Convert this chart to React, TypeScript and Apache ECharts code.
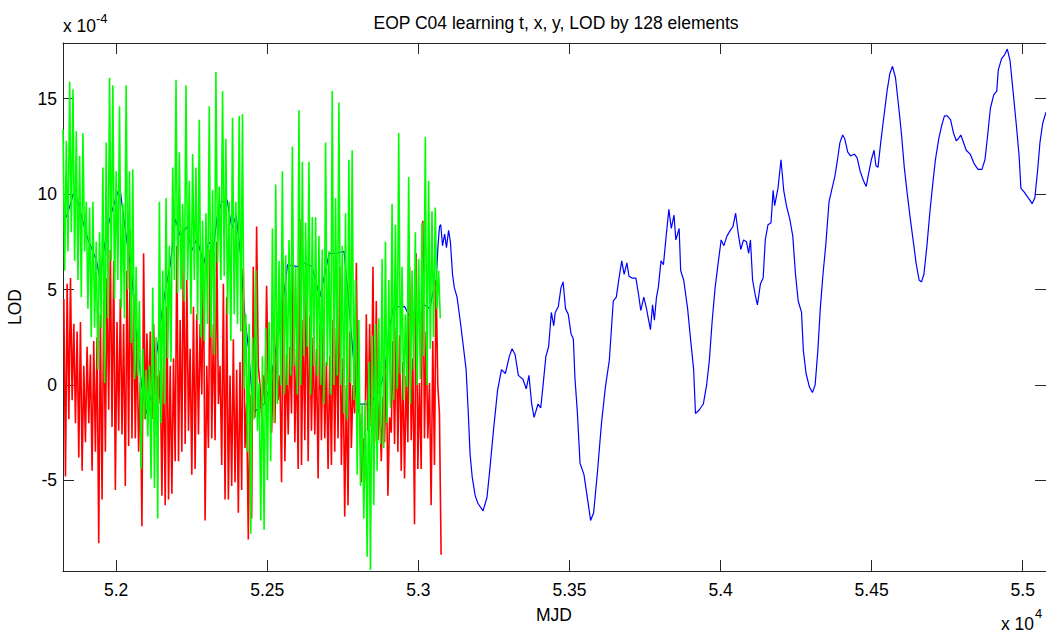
import React, { useEffect, useRef } from "react";
import * as echarts from "echarts";

// ---- data (LOD-type values in units of 1e-4, time in MJD) ----
const xTicks = [52000, 52500, 53000, 53500, 54000, 54500, 55000];
const yTicks = [-5, 0, 5, 10, 15];
const xMin = 51824;
const xMax = 55077;
const yMin = -9.75;
const yMax = 17.92;

// learning part: oscillating x (green) and y (red) samples, one high/low pair per cycle
const cycleStart = 51824;
const cycleDays = 11;
const greenHigh = [
  13.4, 12.8, 15.9, 15.5, 13.3, 12.0, 13.2, 9.6, 9.3, 9.6, 7.5, 8.0, 11.4, 12.7, 16.1, 15.7, 11.2, 14.6, 9.5, 15.7,
  11.2, 11.3, 6.2, 4.4, 1.9, 0.8, 1.0, 5.1, 2.5, 9.6, 6.0, 9.8, 7.3, 11.4, 16.0, 12.2, 9.5, 15.7, 10.7, 12.1,
  11.4, 13.9, 8.6, 9.0, 14.6, 10.2, 16.4, 10.4, 15.4, 12.9, 9.6, 14.0, 9.6, 14.1, 14.2, 3.7, 3.2, 2.5, 6.0, 0.1,
  1.5, 3.0, 3.3, 8.2, 10.5, 6.5, 11.2, 6.8, 7.6, 12.5, 6.2, 14.4, 11.7, 8.5, 11.7, 8.8, 8.8, 7.8, 7.1, 12.7,
  7.0, 15.4, 9.8, 14.8, 7.3, 9.0, 11.8, 12.3, 5.5, 3.4, -1.0, -0.8, 1.2, 2.6, 3.2, 3.5, 6.6, 7.5, 5.5, 9.5,
  8.4, 13.2, 6.2, 3.7, 10.9, 6.0, 8.0, 6.6, 8.5, 13.0, 10.7, 9.1, 9.3, 6.0,
];
const greenLow = [
  6.0, 7.0, 8.0, 6.5, 5.5, 4.6, 7.0, 4.0, 2.5, 3.0, 0.8, 3.0, 0.1, 3.5, 6.5, 4.5, 5.5, 4.0, 3.5, 5.0,
  2.2, 0.3, 0.5, -4.4, -1.8, -2.7, -4.9, -5.4, -7.0, -2.0, -1.0, 1.4, 1.2, 5.5, 4.8, 5.0, 4.4, 5.5, 3.7, 5.5,
  3.4, 2.5, 2.3, 3.2, 2.5, 1.6, 6.4, 5.5, 5.7, 3.7, 2.3, 3.7, 3.2, 2.8, -0.2, -3.5, -7.8, -1.8, -2.4, -7.1,
  -7.6, -5.0, -4.0, -2.0, -1.0, 0.0, -0.5, 0.0, 0.5, 1.0, -0.5, 0.0, 1.5, 2.0, -0.5, 1.0, 0.5, 0.0, -1.0, 1.0,
  -0.5, 0.0, 0.5, 0.0, -1.5, -1.8, 0.1, -0.8, -4.7, -5.3, -7.0, -9.0, -9.7, -6.3, -4.5, -3.1, -3.3, -2.0, -1.2, -0.8,
  -0.2, 0.6, -0.8, -0.1, -1.0, 0.8, 0.0, 0.3, 1.5, 0.0, 1.9, 2.5, 4.0, 3.5,
];
const redHigh = [
  4.5, 5.3, 5.6, 3.2, 2.8, 3.3, 1.0, 2.0, 1.6, 2.3, 2.5, 3.7, 4.5, 5.6, 7.1, 6.5, 3.3, 4.5, 3.2, 6.0,
  8.1, 4.8, 2.5, 0.1, 6.9, 2.7, 2.8, 3.2, 0.5, 0.8, 1.5, 4.1, 1.0, 1.4, 7.3, 3.4, 8.0, 5.5, 1.9, 4.1,
  3.7, 3.2, 6.6, 1.0, 7.1, 3.2, 7.5, 1.0, 5.3, 4.6, 0.5, 2.4, 0.8, 1.2, 6.1, -1.0, -0.5, 6.2, 8.3, 0.0,
  0.5, 5.2, 0.8, 1.0, 3.0, 0.5, 6.4, 1.6, 2.0, 6.4, 1.9, 8.7, 3.4, 6.4, 3.6, 2.5, 1.9, 3.2, 3.0, 1.2,
  1.5, 3.4, 3.0, 6.2, 1.4, 0.0, 2.8, 0.0, 6.4, -1.5, -2.8, 3.7, 3.2, 6.2, 4.4, -0.8, -0.6, 1.2, -1.7, 2.3,
  3.0, 2.6, 1.2, 0.5, 6.2, 1.4, 6.9, 0.1, 8.6, 2.8, 0.1, 2.3, 5.5, -1.5,
];
const redLow = [
  -4.8, -1.8, -0.8, -2.0, -3.8, -4.5, -3.0, -2.0, -4.5, -3.5, -8.3, -6.0, -3.5, -1.3, -2.2, -5.5, -2.4, -2.6, -5.3, -3.2,
  -2.8, -2.8, -3.5, -7.4, -1.8, -1.4, -1.8, -0.6, -1.0, -5.8, -6.3, -6.0, -5.7, -4.0, -4.0, -3.5, -3.1, -2.4, -4.7, -4.4,
  -2.6, -0.5, -7.1, -3.3, -2.8, -2.9, -1.0, -4.2, -6.0, -6.0, -5.3, -5.1, -6.7, -5.5, -3.3, -8.1, -7.0, -1.7, 1.0, -1.7,
  -1.0, 0.0, -2.5, -2.0, -0.8, -5.1, -4.0, -2.6, -1.5, -3.0, -4.4, -4.2, -2.9, -4.0, -2.4, -2.6, -4.9, -2.9, -2.8, -4.4,
  -4.2, -3.5, -2.8, -4.2, -6.9, -6.3, -3.3, -1.5, -1.3, -5.1, -5.0, -2.4, -2.2, -3.0, -2.9, -4.0, -3.0, -5.8, -2.5, -3.1,
  -3.5, -4.5, -4.9, -3.0, -2.9, -7.3, -4.4, -4.4, -2.8, -2.8, -6.3, -4.2, 0.0, -8.9,
];

// LOD (blue) over the whole span
const blueDays = [
  51825, 51836, 51858, 51869, 51891, 51907, 51918, 51935, 51946, 51968, 51984, 51995, 52012, 52023, 52040, 52051,
  52067, 52084, 52100, 52117, 52141, 52152, 52163, 52179, 52196, 52212, 52235, 52249, 52268, 52289, 52306, 52322,
  52334, 52350, 52367, 52383, 52397, 52411, 52427, 52438, 52446, 52457, 52490, 52506, 52520, 52545, 52567, 52600,
  52622, 52648, 52674, 52705, 52729, 52754, 52767, 52784, 52793, 52800, 52839, 52872, 52889, 52903, 52916, 52933,
  52955, 52982, 53004, 53018, 53039, 53046, 53059, 53065, 53070, 53074, 53080, 53087, 53093, 53100, 53106, 53113,
  53119, 53128, 53139, 53149, 53158, 53165, 53171, 53178, 53188, 53197, 53214, 53227, 53236, 53249, 53262, 53275,
  53288, 53301, 53310, 53320, 53331, 53346, 53357, 53366, 53375, 53383, 53396, 53405, 53414, 53422, 53431, 53440,
  53448, 53453, 53463, 53472, 53479, 53487, 53496, 53505, 53513, 53518, 53526, 53535, 53548, 53561, 53570, 53580,
  53593, 53606, 53619, 53632, 53645, 53655, 53664, 53673, 53681, 53690, 53697, 53707, 53720, 53729, 53736, 53746,
  53755, 53762, 53768, 53775, 53781, 53788, 53794, 53803, 53811, 53820, 53829, 53837, 53846, 53852, 53863, 53868,
  53878, 53891, 53902, 53911, 53917, 53930, 53943, 53954, 53963, 53972, 53982, 53993, 54002, 54011, 54021, 54032,
  54041, 54050, 54058, 54067, 54076, 54086, 54093, 54099, 54106, 54115, 54122, 54132, 54141, 54148, 54157, 54167,
  54174, 54179, 54190, 54200, 54209, 54218, 54229, 54239, 54248, 54257, 54268, 54274, 54283, 54294, 54304, 54313,
  54322, 54330, 54339, 54348, 54359, 54369, 54378, 54387, 54395, 54404, 54411, 54421, 54430, 54443, 54452, 54462,
  54473, 54482, 54488, 54499, 54508, 54514, 54521, 54530, 54540, 54551, 54560, 54569, 54579, 54590, 54599, 54608,
  54618, 54628, 54638, 54647, 54657, 54665, 54673, 54683, 54693, 54702, 54711, 54722, 54732, 54741, 54750, 54761,
  54771, 54780, 54787, 54795, 54802, 54813, 54826, 54839, 54852, 54865, 54875, 54884, 54893, 54904, 54914, 54919,
  54930, 54940, 54949, 54958, 54968, 54979, 54988, 54994, 55005, 55014, 55023, 55031, 55040, 55049, 55057, 55066,
  55077,
];
const blueVals = [
  9.2, 8.8, 10.0, 9.8, 8.5, 7.6, 7.2, 6.5, 5.6, 8.0, 9.0, 9.6, 10.4, 9.0, 7.0, 5.9,
  2.6, 0.0, -1.5, -0.5, 2.5, 3.9, 5.0, 6.3, 8.7, 7.8, 8.3, 7.0, 7.7, 6.3, 7.5, 7.2,
  8.8, 9.6, 9.7, 8.2, 8.9, 6.9, 3.4, 1.9, 0.1, -1.4, -1.0, -0.2, 1.1, 3.4, 6.3, 6.2,
  6.4, 6.2, 4.6, 6.9, 6.9, 7.0, 4.8, 1.6, -0.4, -1.0, -1.0, -0.3, 0.8, 2.8, 4.0, 4.1,
  4.1, 3.2, 3.4, 4.2, 4.0, 4.7, 5.5, 7.3, 8.3, 8.4, 7.3, 7.9, 7.2, 8.1, 7.5, 5.8,
  5.1, 4.6, 3.3, 2.0, 0.8, -1.4, -3.6, -4.8, -5.8, -6.2, -6.6, -5.9, -4.5, -2.3, -0.3, 0.8,
  0.6, 1.5, 1.9, 1.6, 0.5, 0.3, -0.2, 0.5, -1.0, -1.7, -1.0, -1.2, 0.2, 1.5, 2.0, 3.8,
  3.1, 3.8, 4.1, 5.1, 5.4, 4.0, 3.7, 2.7, 2.4, 0.4, -1.4, -4.1, -4.7, -6.1, -7.1, -6.7,
  -4.5, -2.0, -0.1, 1.3, 4.4, 4.6, 5.6, 6.5, 5.8, 6.4, 5.7, 5.6, 5.6, 4.7, 3.9, 4.6,
  4.0, 3.4, 2.9, 4.2, 3.4, 4.6, 5.1, 6.5, 6.3, 7.8, 9.2, 8.2, 8.9, 7.6, 8.2, 6.0,
  5.5, 4.0, 2.2, 0.8, -1.5, -1.3, -1.0, 0.0, 1.3, 3.3, 5.1, 6.5, 7.6, 7.3, 7.8, 8.1,
  8.3, 9.0, 8.0, 7.1, 7.6, 7.5, 6.9, 7.6, 5.5, 4.7, 4.2, 5.3, 5.6, 7.6, 8.4, 8.5,
  10.2, 9.4, 10.3, 11.8, 10.2, 9.4, 8.7, 7.8, 5.8, 4.4, 3.8, 1.8, 0.6, -0.1, -0.4, 0.0,
  1.8, 4.0, 5.8, 7.3, 9.6, 10.3, 10.9, 11.8, 12.7, 13.1, 12.9, 12.2, 12.0, 12.1, 11.9, 11.2,
  10.7, 10.4, 10.9, 11.8, 12.3, 11.5, 11.4, 12.7, 14.0, 15.4, 16.3, 16.7, 16.1, 14.5, 13.1, 11.4,
  10.0, 8.7, 7.5, 6.4, 5.5, 5.4, 5.8, 7.3, 9.1, 10.5, 11.8, 12.9, 13.6, 14.1, 14.1, 13.9,
  13.2, 12.8, 12.9, 13.1, 12.8, 12.3, 12.1, 11.6, 11.3, 11.3, 11.8, 13.1, 14.5, 15.2, 15.4, 16.5,
  17.1, 17.3, 17.6, 17.0, 15.4, 13.6, 12.0, 10.3, 10.1, 9.9, 9.7, 9.5, 9.8, 11.2, 12.7, 13.7,
  14.3,
];

const TITLE = "EOP C04 learning t, x, y, LOD by 128 elements";
const FONT = "'Liberation Sans', Arial, Helvetica, sans-serif";
const AXIS_COLOR = "#262626";

function buildCycles(highs: number[], lows: number[], offset: number): number[][] {
  const out: number[][] = [];
  for (let i = 0; i < highs.length; i++) {
    const t = cycleStart + i * cycleDays + offset;
    out.push([t, highs[i]]);
    out.push([t + cycleDays / 2, lows[i]]);
  }
  return out;
}

export default function App() {
  const ref = useRef<HTMLDivElement>(null);
  useEffect(() => {
    if (!ref.current) return;
    const chart = echarts.init(ref.current, undefined, { renderer: "svg" });
    const blueData = blueDays.map((d, i) => [d, blueVals[i]]);
    const redData = buildCycles(redHigh, redLow, cycleDays / 4);
    const greenData = buildCycles(greenHigh, greenLow, 0);

    const tickStyle = { color: AXIS_COLOR, width: 1 };
    const xAxisBase = {
      type: "value" as const,
      min: xMin,
      max: xMax,
      splitLine: { show: false },
      axisLine: { show: true, onZero: false, lineStyle: tickStyle },
      axisTick: { show: true, inside: true, length: 11, customValues: xTicks, lineStyle: tickStyle },
    };
    const yAxisBase = {
      type: "value" as const,
      min: yMin,
      max: yMax,
      splitLine: { show: false },
      axisLine: { show: true, onZero: false, lineStyle: tickStyle },
      axisTick: { show: true, inside: true, length: 11, customValues: yTicks, lineStyle: tickStyle },
    };

    chart.setOption({
      animation: false,
      backgroundColor: "#ffffff",
      grid: { left: 63, right: -2, top: 43, bottom: 63, containLabel: false },
      xAxis: [
        {
          ...xAxisBase,
          position: "bottom",
          axisLabel: {
            customValues: xTicks,
            formatter: (v: number) => String(v / 10000),
            color: "#000",
            fontSize: 17.5,
            fontFamily: FONT,
            margin: 10,
          },
        },
        { ...xAxisBase, position: "top", axisLabel: { show: false } },
      ],
      yAxis: [
        {
          ...yAxisBase,
          position: "left",
          axisLabel: {
            customValues: yTicks,
            color: "#000",
            fontSize: 17.5,
            fontFamily: FONT,
            margin: 6,
          },
        },
        { ...yAxisBase, position: "right", axisLabel: { show: false } },
      ],
      series: [
        {
          name: "LOD",
          type: "line",
          data: blueData,
          showSymbol: false,
          symbol: "none",
          lineStyle: { color: "#0000ff", width: 1.2 },
          itemStyle: { color: "#0000ff" },
          clip: true,
        },
        {
          name: "y",
          type: "line",
          data: redData,
          showSymbol: false,
          symbol: "none",
          lineStyle: { color: "#ff0000", width: 1.6 },
          itemStyle: { color: "#ff0000" },
          clip: true,
        },
        {
          name: "x",
          type: "line",
          data: greenData,
          showSymbol: false,
          symbol: "none",
          lineStyle: { color: "#00ff00", width: 1.6 },
          itemStyle: { color: "#00ff00" },
          clip: true,
        },
      ],
      graphic: [
        {
          type: "text",
          x: 556,
          y: 23,
          style: { text: TITLE, fill: "#000", font: `17.5px ${FONT}`, textAlign: "center", textVerticalAlign: "middle" },
        },
        {
          type: "text",
          x: 15,
          y: 307,
          rotation: Math.PI / 2,
          style: { text: "LOD", fill: "#000", font: `17.5px ${FONT}`, textAlign: "center", textVerticalAlign: "middle" },
        },
        {
          type: "text",
          x: 554,
          y: 615,
          style: { text: "MJD", fill: "#000", font: `17.5px ${FONT}`, textAlign: "center", textVerticalAlign: "middle" },
        },
        {
          type: "text",
          x: 63,
          y: 26,
          style: { text: "x 10", fill: "#000", font: `17.5px ${FONT}`, textAlign: "left", textVerticalAlign: "middle" },
        },
        {
          type: "text",
          x: 96,
          y: 18,
          style: { text: "-4", fill: "#000", font: `13px ${FONT}`, textAlign: "left", textVerticalAlign: "middle" },
        },
        {
          type: "text",
          x: 1034,
          y: 624,
          style: { text: "x 10", fill: "#000", font: `17.5px ${FONT}`, textAlign: "right", textVerticalAlign: "middle" },
        },
        {
          type: "text",
          x: 1035,
          y: 613,
          style: { text: "4", fill: "#000", font: `13px ${FONT}`, textAlign: "left", textVerticalAlign: "middle" },
        },
      ],
    });
    return () => chart.dispose();
  }, []);

  return (
    <div
      ref={ref}
      style={{ position: "fixed", left: 0, top: 0, width: 1046, height: 634, background: "#fff" }}
    />
  );
}
